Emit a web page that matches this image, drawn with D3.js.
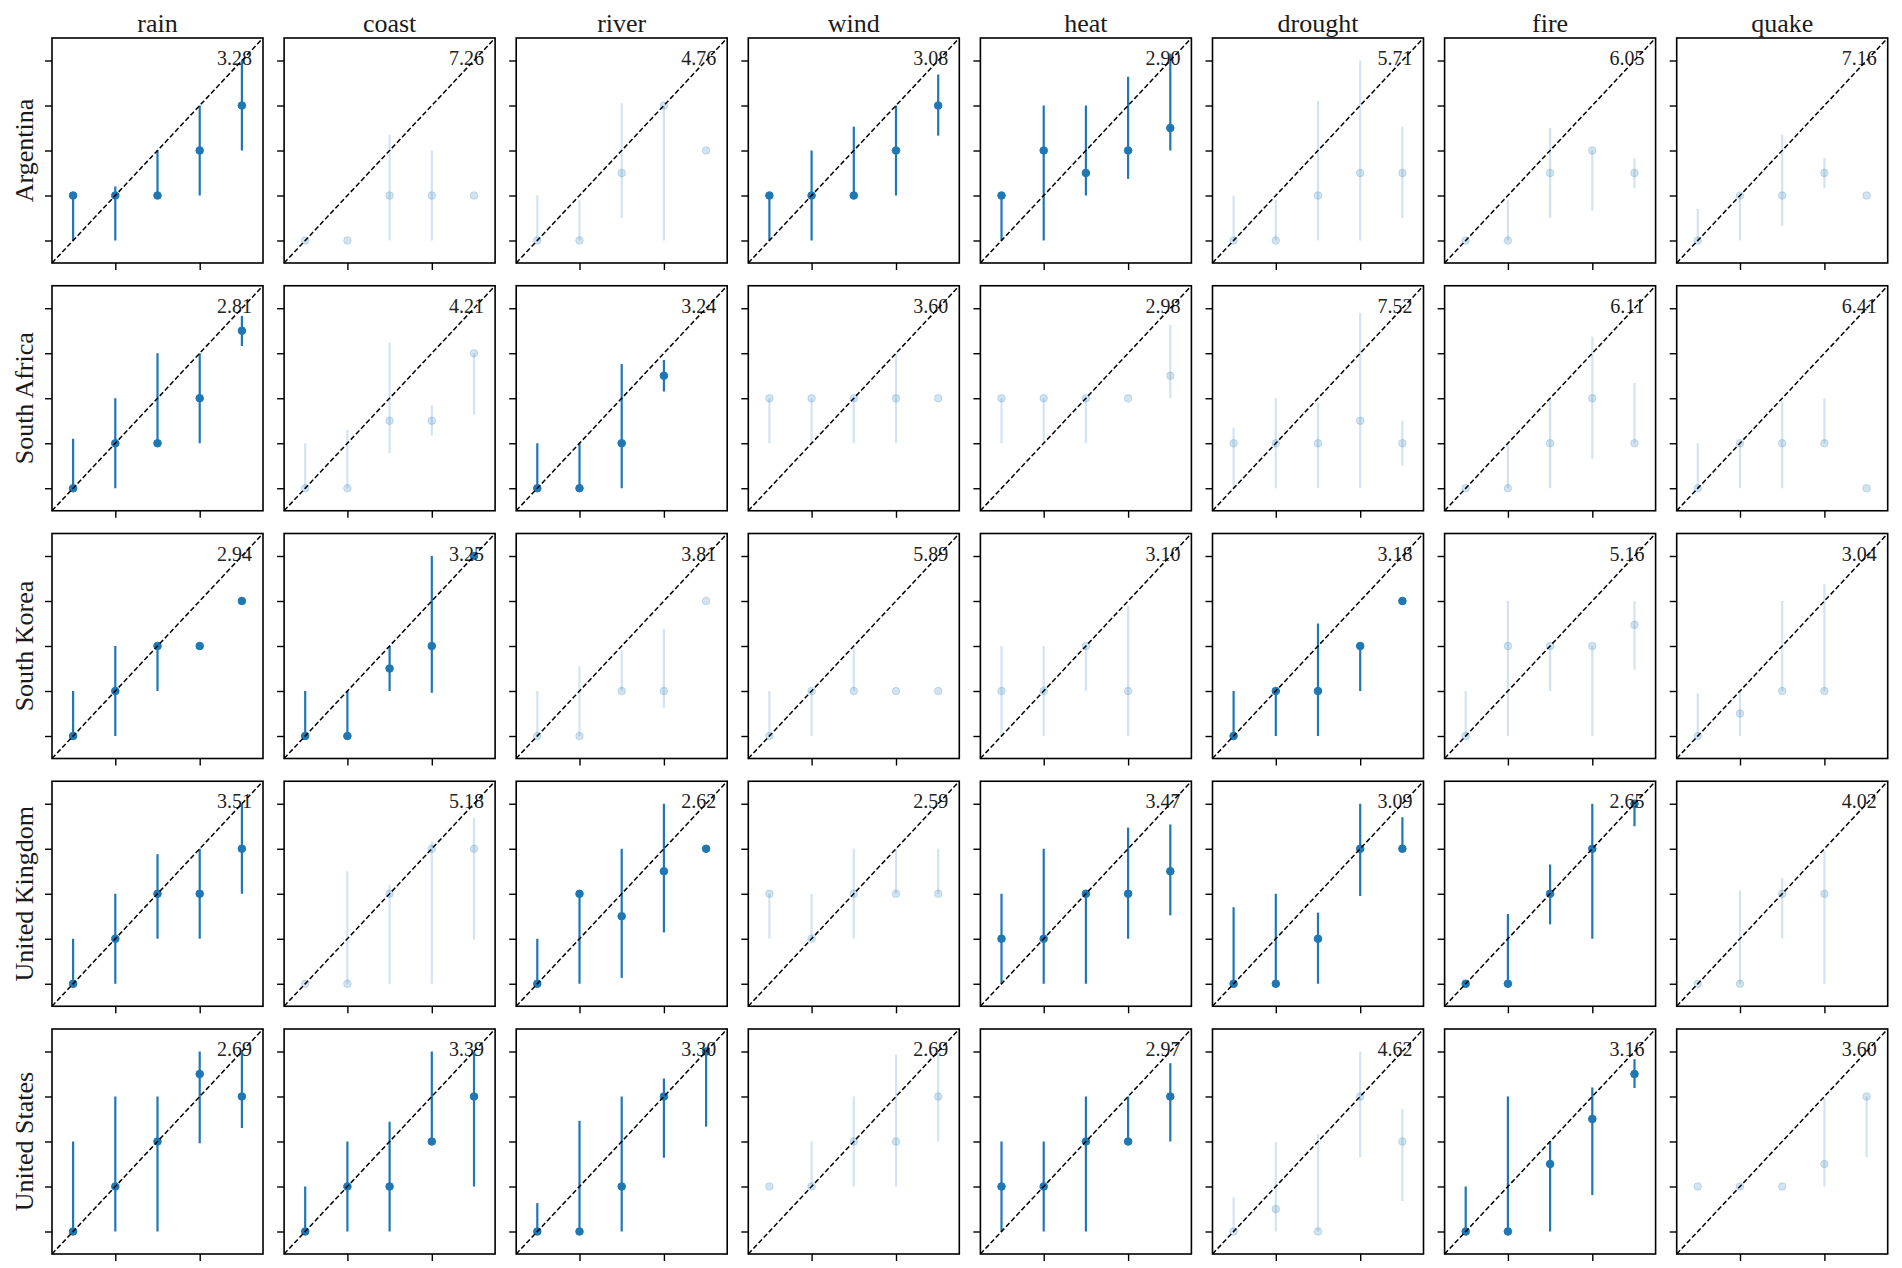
<!DOCTYPE html>
<html>
<head>
<meta charset="utf-8">
<script src="https://cdn.jsdelivr.net/npm/d3@7"></script>
<style>
  html, body { margin: 0; padding: 0; background: #fff; }
  svg { display: block; }
  text { font-family: "Liberation Serif", "DejaVu Serif", serif; }
</style>
</head>
<body>
<svg id="chart" width="1902" height="1268"></svg>
<script>
// ---------------- DATA ----------------
const countries = ["Argentina", "South Africa", "South Korea", "United Kingdom", "United States"];
const hazards = ["rain", "coast", "river", "wind", "heat", "drought", "fire", "quake"];
const xPositions = [1, 2, 3, 4, 5];
const yTickValues = [1, 2, 3, 4, 5];
const xTickValues = [2, 4];

// score shown at top-right of each panel (rows = countries, cols = hazards)
const scores = [
  [3.28, 7.26, 4.76, 3.08, 2.90, 5.71, 6.05, 7.16],
  [2.81, 4.21, 3.24, 3.60, 2.98, 7.52, 6.11, 6.41],
  [2.94, 3.25, 3.81, 5.89, 3.10, 3.18, 5.16, 3.04],
  [3.51, 5.18, 2.62, 2.59, 3.47, 3.09, 2.65, 4.02],
  [2.69, 3.39, 3.30, 2.69, 2.97, 4.62, 3.16, 3.60]
];
// 1 = drawn in full colour, 0 = faded
const highlighted = [
  [1, 0, 0, 1, 1, 0, 0, 0],
  [1, 0, 1, 0, 0, 0, 0, 0],
  [1, 1, 0, 0, 0, 1, 0, 0],
  [1, 0, 1, 0, 1, 1, 1, 0],
  [1, 1, 1, 0, 1, 0, 1, 0]
];

// per country: for each hazard, [means], [lower], [upper]
const argentinaMean = [[2,2,2,3,4],[1,1,2,2,2],[1,1,2.5,4,3],[2,2,2,3,4],[2,3,2.5,3,3.5],[1,1,2,2.5,2.5],[1,1,2.5,3,2.5],[1,2,2,2.5,2]];
const argentinaLow  = [[1,1,2,2,3],[1,1,1,1,2],[1,1,1.5,1,3],[1,1,2,2,3.33],[1,1,2,2.37,3],[1,1,1,1,1.5],[1,1,1.5,1.66,2.16],[1,1,1.33,2.16,2]];
const argentinaHigh = [[2,2.2,3,4,5],[1,1,3.35,3,2],[2,1.9,4.05,4,3],[2,3,3.53,4,4.69],[2,4,4,4.64,5.15],[2,1.9,4.1,5,3.53],[1,1.9,3.5,3,2.83],[1.7,2,3.35,2.83,2]];

const southAfricaMean = [[1,2,2,3,4.5],[1,1,2.5,2.5,4],[1,1,2,3.5,null],[3,3,3,3,3],[3,3,3,3,3.5],[2,2,2,2.5,2],[1,1,2,3,2],[1,2,2,2,1]];
const southAfricaLow  = [[1,1,2,2,4.16],[1,1,1.78,2.17,2.63],[1,1,1,3.15,null],[2,2,2,2,3],[2,2,2,3,3],[1,1,1,1,1.5],[1,1,1,1.65,2],[1,1,1,2,1]];
const southAfricaHigh = [[2.1,3,4,4,4.83],[2,2.3,4.24,2.85,4],[2,2,3.76,3.85,null],[3,3,3,4,3],[3,3,3,3,4.63],[2.35,3,2.9,4.9,2.5],[1,2,3,4.37,3.34],[2,2,2.95,3,1]];

const southKoreaMean = [[1,2,3,3,4],[1,1,2.5,3,5],[1,1,2,2,4],[1,2,2,2,2],[2,2,3,2,null],[1,2,2,3,4],[1,3,3,3,3.47],[1,1.5,2,2,null]];
const southKoreaLow  = [[1,1,2,3,4],[1,1,2,1.96,5],[1,1,2,1.63,4],[1,1,2,2,2],[1,1,2,1,null],[1,1,1,2,4],[1,1,2,1,2.47],[1,1,2,2,null]];
const southKoreaHigh = [[2,3,3,3,4],[2,2,3,5,5],[2,2.55,2.9,3.38,4],[2,2,2.95,2,2],[3,3,3,3.9,null],[2,2,3.5,3,4],[2,4,3,3,4],[1.95,2,4,4.37,null]];

const unitedKingdomMean = [[1,2,3,3,4],[1,1,3,4,4],[1,3,2.5,3.5,4],[3,2,3,3,3],[2,2,3,3,3.5],[1,1,2,4,4],[1,1,3,4,5],[1,1,3,3,null]];
const unitedKingdomLow  = [[1,1,2,2,3],[1,1,1,1,1.98],[1,1,1.13,2.14,4],[2,2,2,3,3],[1,1,1,2,2.52],[1,1,1,2.95,4],[1,1,2.32,2,4.5],[1,1,2,1,null]];
const unitedKingdomHigh = [[2,3,3.88,4,5],[1,3.5,3.2,4.16,4.68],[2,3,4,5,4],[3,3,4,4,4],[3,4,3,4.47,4.54],[2.7,3,2.58,5,4.7],[1,2.55,3.65,5,5],[1,3.07,3.35,3.95,null]];

const unitedStatesMean = [[1,2,3,4.5,4],[1,2,2,3,4],[1,1,2,4,5],[2,2,3,3,4],[2,2,3,3,4],[1,1.5,1,4,3],[1,1,2.5,3.5,4.5],[2,2,2,2.5,4]];
const unitedStatesLow  = [[1,1,1,2.96,3.3],[1,1,1,3,2],[1,1,1,2.64,3.33],[2,2,2,2,3],[1,1,1,3,3],[1,1,1,2.65,1.68],[1,1,1,1.81,4.19],[2,2,2,2,2.65]];
const unitedStatesHigh = [[3,4,4,5,5],[2,3,3.44,5,5],[1.63,3.46,4,4.4,5],[2,3,4,4.93,5.05],[3,3,4,4,4.74],[1.76,2.98,3.17,5,3.72],[2,4,3,4.2,4.83],[2,2,2,3.96,4]];

const meanByCountry = [argentinaMean, southAfricaMean, southKoreaMean, unitedKingdomMean, unitedStatesMean];
const lowByCountry  = [argentinaLow, southAfricaLow, southKoreaLow, unitedKingdomLow, unitedStatesLow];
const highByCountry = [argentinaHigh, southAfricaHigh, southKoreaHigh, unitedKingdomHigh, unitedStatesHigh];

// ---------------- LAYOUT ----------------
const left0 = 52, top0 = 38;
const pw = 211, ph = 225;
const colStep = 232.1, rowStep = 247.75;
const blue = "#1f77b4";
const fadeAlpha = 0.2;

const svg = d3.select("#chart");
const x = d3.scaleLinear().domain([0.5, 5.5]).range([0, pw]);
const y = d3.scaleLinear().domain([0.5, 5.5]).range([ph, 0]);

// column titles
hazards.forEach((h, j) => {
  svg.append("text")
    .attr("x", left0 + j * colStep + pw / 2)
    .attr("y", top0 - 6)
    .attr("text-anchor", "middle")
    .attr("font-size", 26)
    .attr("fill", "#1a1a1a")
    .text(h);
});

// row labels
countries.forEach((c, i) => {
  const cy = top0 + i * rowStep + ph / 2;
  svg.append("text")
    .attr("transform", `translate(33,${cy}) rotate(-90)`)
    .attr("text-anchor", "middle")
    .attr("font-size", 26)
    .attr("fill", "#1a1a1a")
    .text(c);
});

countries.forEach((c, i) => {
  hazards.forEach((h, j) => {
    const g = svg.append("g")
      .attr("transform", `translate(${left0 + j * colStep},${top0 + i * rowStep})`);
    const on = highlighted[i][j] === 1;
    const op = on ? 1 : fadeAlpha;
    const pts = xPositions.map((xv, k) => ({
      x: xv,
      m: meanByCountry[i][j][k],
      lo: lowByCountry[i][j][k],
      hi: highByCountry[i][j][k]
    })).filter(d => d.m !== null);

    // axes ticks
    g.append("g")
      .call(d3.axisLeft(y).tickValues(yTickValues).tickSize(7).tickFormat(""))
      .call(a => a.select(".domain").remove())
      .call(a => a.selectAll("line").attr("stroke", "#000").attr("stroke-width", 1.4));
    g.append("g")
      .attr("transform", `translate(0,${ph})`)
      .call(d3.axisBottom(x).tickValues(xTickValues).tickSize(7).tickFormat(""))
      .call(a => a.select(".domain").remove())
      .call(a => a.selectAll("line").attr("stroke", "#000").attr("stroke-width", 1.4));

    // error bars
    g.selectAll("line.err").data(pts.filter(d => d.hi > d.lo)).enter()
      .append("line")
      .attr("class", "err")
      .attr("x1", d => x(d.x)).attr("x2", d => x(d.x))
      .attr("y1", d => y(d.lo)).attr("y2", d => y(d.hi))
      .attr("stroke", blue)
      .attr("stroke-opacity", op)
      .attr("stroke-width", 2.2);

    // markers
    g.selectAll("circle.pt").data(pts).enter()
      .append("circle")
      .attr("class", "pt")
      .attr("cx", d => x(d.x))
      .attr("cy", d => y(d.m))
      .attr("r", 3.8)
      .attr("fill", blue)
      .attr("fill-opacity", op)
      .attr("stroke", blue)
      .attr("stroke-opacity", op)
      .attr("stroke-width", 1);

    // score label
    g.append("text")
      .attr("x", pw - 11)
      .attr("y", 27)
      .attr("text-anchor", "end")
      .attr("font-size", 20)
      .attr("fill", "#222")
      .text(scores[i][j].toFixed(2));

    // diagonal reference line
    g.append("line")
      .attr("x1", x(0.5)).attr("y1", y(0.5))
      .attr("x2", x(5.5)).attr("y2", y(5.5))
      .attr("stroke", "#000")
      .attr("stroke-width", 1.5)
      .attr("stroke-dasharray", "5,2.5");

    // frame
    g.append("rect")
      .attr("x", 0).attr("y", 0)
      .attr("width", pw).attr("height", ph)
      .attr("fill", "none")
      .attr("stroke", "#000")
      .attr("stroke-width", 1.6);
  });
});
</script>
</body>
</html>
